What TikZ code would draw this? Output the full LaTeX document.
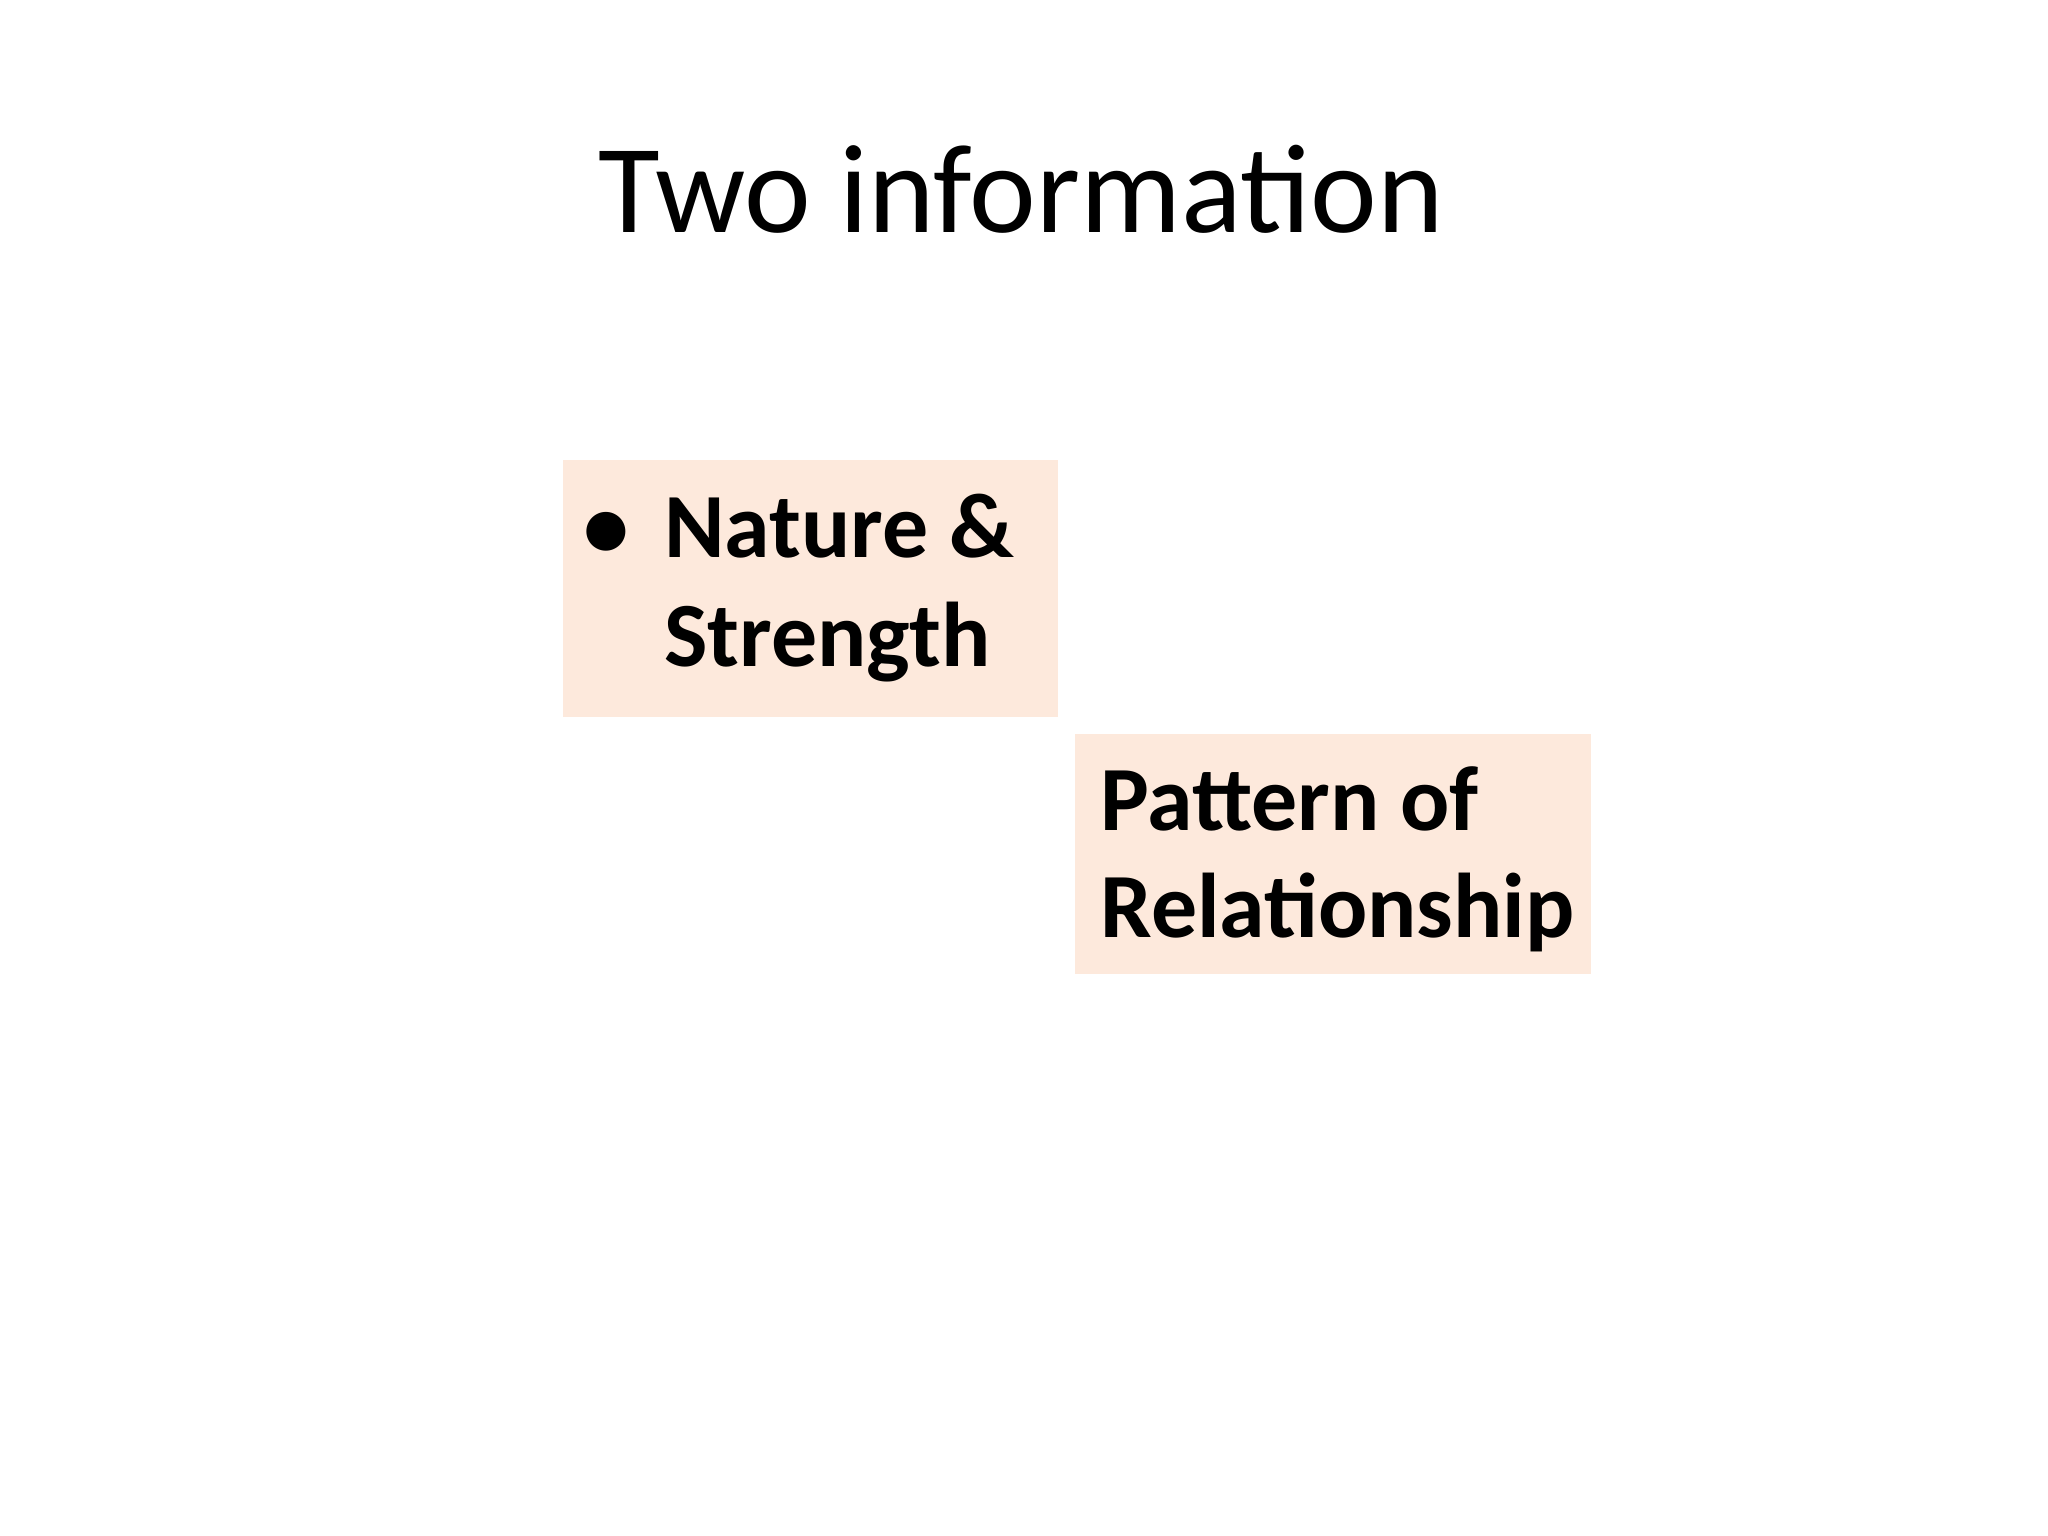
\documentclass[tikz,border=0pt]{standalone}
\usepackage{fontspec}
\setmainfont{Carlito}
\definecolor{peach}{HTML}{FDE9DC}
\begin{document}
\begin{tikzpicture}[x=0.01cm,y=-0.01cm,
  boxstyle/.style={fill=peach,draw=none},
  txt/.style={anchor=base west,inner sep=0pt,font=\fontsize{20}{24}\selectfont\bfseries}]
\useasboundingbox (0,0) rectangle (1568,1176);
\node[anchor=base,inner sep=0pt,font=\fontsize{27.5}{32}\selectfont] (title) at (782,178) {Two information};
\fill[boxstyle] (431,352) rectangle (810,549);
\fill[boxstyle] (823,562) rectangle (1218,746);
\node[txt] (b1) at (446,427) {•};
\node[txt] (n1) at (508,427) {Nature \&};
\node[txt] (n2) at (508,510) {Strength};
\node[txt] (p1) at (842,636) {Pattern of};
\node[txt] (p2) at (842,718) {Relationship};
\end{tikzpicture}
\end{document}
